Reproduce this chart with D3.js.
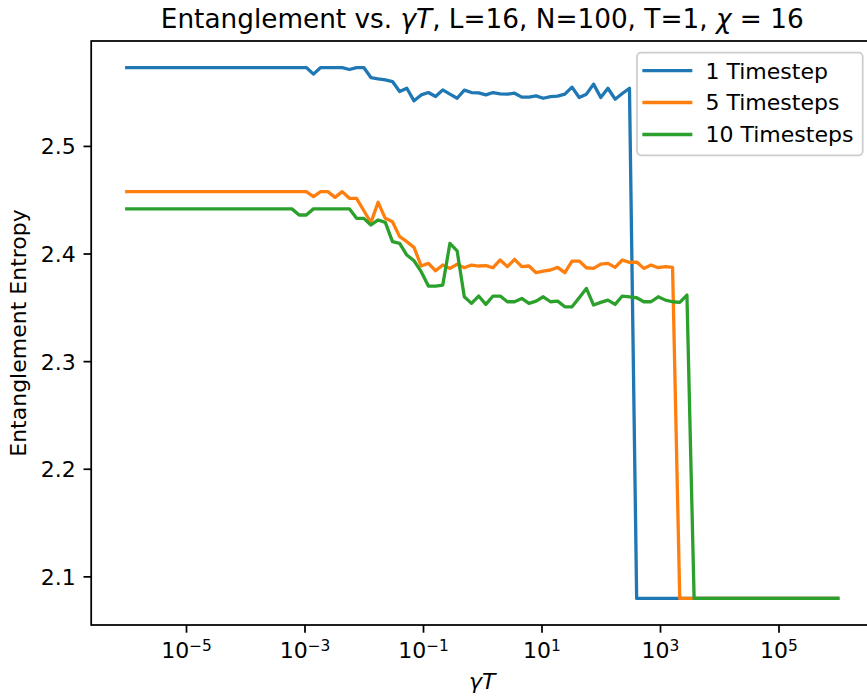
<!DOCTYPE html>
<html>
<head>
<meta charset="utf-8">
<script src="https://cdn.jsdelivr.net/npm/d3@7"></script>
<style>
  body { margin: 0; background: #fff; }
  svg { display: block; }
  text { font-family: "DejaVu Sans", sans-serif; fill: #000; }
</style>
</head>
<body>
<svg id="chart" width="867" height="697"></svg>
<script>
// γT sample grid: 100 log-spaced points from 1e-6 to 1e6
const nSamples = 100;
const gammaT = d3.range(nSamples).map(i => Math.pow(10, -6 + 12 * i / (nSamples - 1)));

// Entanglement entropy after 1 timestep
const oneTimestep = [
  2.5728, 2.5728, 2.5728, 2.5728, 2.5728, 2.5728, 2.5728, 2.5728, 2.5728, 2.5728,
  2.5728, 2.5728, 2.5728, 2.5728, 2.5728, 2.5728, 2.5728, 2.5728, 2.5728, 2.5728,
  2.5728, 2.5728, 2.5728, 2.5728, 2.5728, 2.5728, 2.5667, 2.5728, 2.5728, 2.5728,
  2.5728, 2.5710, 2.5728, 2.5728, 2.5635, 2.5623, 2.5614, 2.5598, 2.5505, 2.5536,
  2.5419, 2.5474, 2.5496, 2.5459, 2.5521, 2.5481, 2.5443, 2.5518, 2.5496, 2.5493,
  2.5474, 2.5496, 2.5484, 2.5481, 2.5490, 2.5453, 2.5453, 2.5465, 2.5443, 2.5459,
  2.5462, 2.5481, 2.5546, 2.5450, 2.5481, 2.5574, 2.5450, 2.5536, 2.5434, 2.5487,
  2.5536, 2.0795, 2.0795, 2.0795, 2.0795, 2.0795, 2.0795, 2.0795, 2.0795, 2.0795,
  2.0795, 2.0795, 2.0795, 2.0795, 2.0795, 2.0795, 2.0795, 2.0795, 2.0795, 2.0795,
  2.0795, 2.0795, 2.0795, 2.0795, 2.0795, 2.0795, 2.0795, 2.0795, 2.0795, 2.0795
];

// Entanglement entropy after 5 timesteps
const fiveTimesteps = [
  2.4575, 2.4575, 2.4575, 2.4575, 2.4575, 2.4575, 2.4575, 2.4575, 2.4575, 2.4575,
  2.4575, 2.4575, 2.4575, 2.4575, 2.4575, 2.4575, 2.4575, 2.4575, 2.4575, 2.4575,
  2.4575, 2.4575, 2.4575, 2.4575, 2.4575, 2.4575, 2.4528, 2.4575, 2.4575, 2.4522,
  2.4575, 2.4513, 2.4513, 2.4400, 2.4287, 2.4476, 2.4327, 2.4296, 2.4157, 2.4110,
  2.4057, 2.3884, 2.3909, 2.3840, 2.3893, 2.3862, 2.3900, 2.3868, 2.3893, 2.3884,
  2.3887, 2.3868, 2.3940, 2.3878, 2.3946, 2.3878, 2.3884, 2.3822, 2.3837, 2.3847,
  2.3871, 2.3822, 2.3930, 2.3930, 2.3868, 2.3862, 2.3902, 2.3909, 2.3871, 2.3940,
  2.3918, 2.3921, 2.3862, 2.3893, 2.3868, 2.3878, 2.3871, 2.0795, 2.0795, 2.0795,
  2.0795, 2.0795, 2.0795, 2.0795, 2.0795, 2.0795, 2.0795, 2.0795, 2.0795, 2.0795,
  2.0795, 2.0795, 2.0795, 2.0795, 2.0795, 2.0795, 2.0795, 2.0795, 2.0795, 2.0795
];

// Entanglement entropy after 10 timesteps
const tenTimesteps = [
  2.4415, 2.4415, 2.4415, 2.4415, 2.4415, 2.4415, 2.4415, 2.4415, 2.4415, 2.4415,
  2.4415, 2.4415, 2.4415, 2.4415, 2.4415, 2.4415, 2.4415, 2.4415, 2.4415, 2.4415,
  2.4415, 2.4415, 2.4415, 2.4415, 2.4358, 2.4358, 2.4415, 2.4415, 2.4415, 2.4415,
  2.4415, 2.4415, 2.4327, 2.4327, 2.4265, 2.4312, 2.4290, 2.4110, 2.4095, 2.3986,
  2.3933, 2.3831, 2.3698, 2.3698, 2.3707, 2.4095, 2.4025, 2.3598, 2.3537, 2.3605,
  2.3527, 2.3605, 2.3605, 2.3552, 2.3552, 2.3583, 2.3537, 2.3558, 2.3598, 2.3552,
  2.3558, 2.3505, 2.3505, 2.3589, 2.3676, 2.3521, 2.3546, 2.3567, 2.3527, 2.3605,
  2.3598, 2.3589, 2.3552, 2.3552, 2.3598, 2.3567, 2.3552, 2.3546, 2.3614, 2.0795,
  2.0795, 2.0795, 2.0795, 2.0795, 2.0795, 2.0795, 2.0795, 2.0795, 2.0795, 2.0795,
  2.0795, 2.0795, 2.0795, 2.0795, 2.0795, 2.0795, 2.0795, 2.0795, 2.0795, 2.0795
];

const seriesNames = ["1 Timestep", "5 Timesteps", "10 Timesteps"];
const seriesColors = ["#1f77b4", "#ff7f0e", "#2ca02c"];
const xTickExponents = [-5, -3, -1, 1, 3, 5];
const yTickValues = [2.1, 2.2, 2.3, 2.4, 2.5];

const series = [oneTimestep, fiveTimesteps, tenTimesteps].map((vals, k) => ({
  name: seriesNames[k],
  color: seriesColors[k],
  points: vals.map((v, i) => ({ x: gammaT[i], y: v }))
}));

// Plot frame
const plot = { left: 91.2, right: 873.3, top: 41, bottom: 625 };
const FS = 22;            // base font size
const tickLen = 7.7;
const spineW = 1.75;

const x = d3.scaleLog()
  .domain([Math.pow(10, -6.6), Math.pow(10, 6.6)])
  .range([plot.left, plot.right]);
const y = d3.scaleLinear()
  .domain([2.0548, 2.5975])
  .range([plot.bottom, plot.top]);

const svg = d3.select("#chart");

// Data lines
const line = d3.line().x(d => x(d.x)).y(d => y(d.y));
svg.append("g")
  .selectAll("path")
  .data(series)
  .join("path")
  .attr("d", d => line(d.points))
  .attr("fill", "none")
  .attr("stroke", d => d.color)
  .attr("stroke-width", 3.3)
  .attr("stroke-linejoin", "round")
  .attr("stroke-linecap", "square");

// X axis
const xAxis = svg.append("g")
  .attr("transform", `translate(0,${plot.bottom})`)
  .call(d3.axisBottom(x)
    .tickValues(xTickExponents.map(e => Math.pow(10, e)))
    .tickSize(tickLen)
    .tickSizeOuter(0)
    .tickFormat(() => ""));
xAxis.select(".domain").remove();
xAxis.selectAll(".tick line").attr("stroke", "#000").attr("stroke-width", spineW);
xAxis.selectAll(".tick text").remove();
xAxis.selectAll(".tick").each(function (d) {
  const e = Math.round(Math.log10(d));
  const t = d3.select(this).append("text")
    .attr("y", 33)
    .attr("text-anchor", "middle")
    .style("font-size", FS + "px");
  t.append("tspan").text("10");
  t.append("tspan")
    .attr("dy", -7)
    .style("font-size", (FS * 0.7) + "px")
    .text((e < 0 ? "\u2212" : "") + Math.abs(e));
});

// Y axis
const yAxis = svg.append("g")
  .attr("transform", `translate(${plot.left},0)`)
  .call(d3.axisLeft(y)
    .tickValues(yTickValues)
    .tickSize(tickLen)
    .tickSizeOuter(0)
    .tickPadding(7.7)
    .tickFormat(d3.format(".1f")));
yAxis.select(".domain").remove();
yAxis.selectAll(".tick line").attr("stroke", "#000").attr("stroke-width", spineW);
yAxis.selectAll(".tick text")
  .attr("dy", null)
  .attr("y", 8)
  .style("font-size", FS + "px")
  .style("font-family", "'DejaVu Sans', sans-serif")
  .attr("fill", "#000");

// Spines
svg.append("rect")
  .attr("x", plot.left)
  .attr("y", plot.top)
  .attr("width", plot.right - plot.left)
  .attr("height", plot.bottom - plot.top)
  .attr("fill", "none")
  .attr("stroke", "#000")
  .attr("stroke-width", spineW);

// Axis labels
const xl = svg.append("text")
  .attr("x", (plot.left + plot.right) / 2)
  .attr("y", 689)
  .attr("text-anchor", "middle")
  .style("font-size", FS + "px")
  .style("font-style", "italic");
xl.text("\u03B3T");

svg.append("text")
  .attr("transform", `translate(26,${(plot.top + plot.bottom) / 2}) rotate(-90)`)
  .attr("text-anchor", "middle")
  .style("font-size", FS + "px")
  .text("Entanglement Entropy");

// Title
const title = svg.append("text")
  .attr("x", (plot.left + plot.right) / 2)
  .attr("y", 28)
  .attr("text-anchor", "middle")
  .style("font-size", "26.3px");
title.append("tspan").text("Entanglement vs. ");
title.append("tspan").style("font-style", "italic").text("\u03B3T");
title.append("tspan").text(", L=16, N=100, T=1, ");
title.append("tspan").style("font-style", "italic").text("\u03C7");
title.append("tspan").text(" = 16");

// Legend
const legend = svg.append("g");
legend.append("rect")
  .attr("x", 637)
  .attr("y", 52.7)
  .attr("width", 225.7)
  .attr("height", 102.6)
  .attr("rx", 4)
  .attr("fill", "#fff")
  .attr("fill-opacity", 0.8)
  .attr("stroke", "#cccccc")
  .attr("stroke-width", spineW);
const rowY = [70.7, 102.5, 134.5];
series.forEach((s, k) => {
  legend.append("line")
    .attr("x1", 644).attr("x2", 690.7)
    .attr("y1", rowY[k]).attr("y2", rowY[k])
    .attr("stroke", s.color)
    .attr("stroke-width", 3.3)
    .attr("stroke-linecap", "square");
  legend.append("text")
    .attr("x", 705.5)
    .attr("y", rowY[k] + 7.8)
    .style("font-size", FS + "px")
    .text(s.name);
});
</script>
</body>
</html>
